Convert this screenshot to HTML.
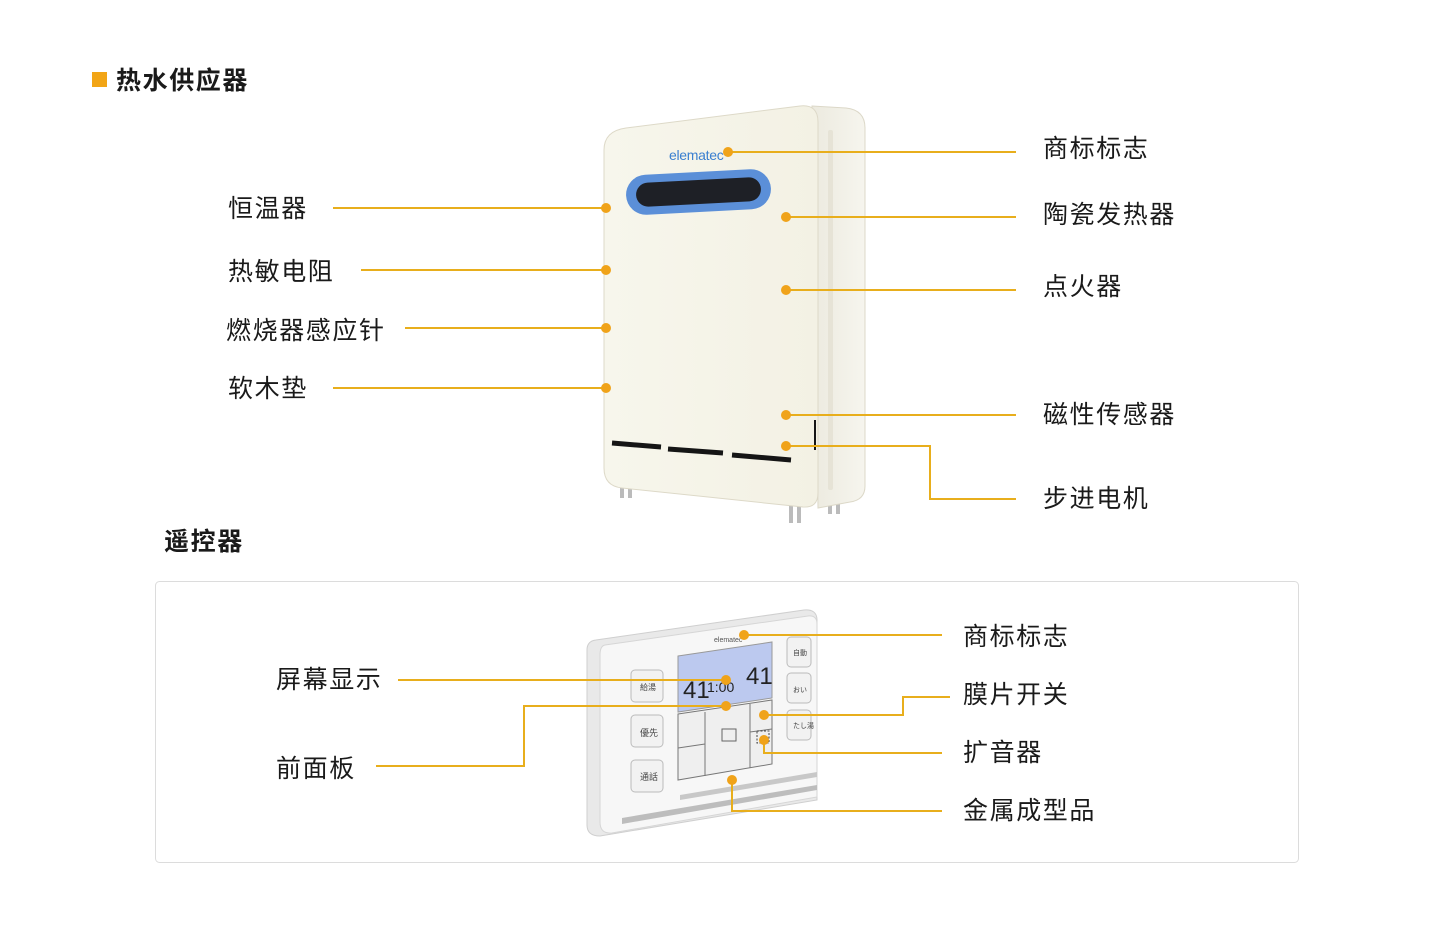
<!DOCTYPE html>
<html><head><meta charset="utf-8">
<style>
html,body{margin:0;padding:0;background:#fff;}
svg{display:block;}
text{font-family:"Liberation Sans","Noto Sans CJK SC",sans-serif;fill:#1a1a1a;}
.l{font-size:25px;letter-spacing:1.6px;}
.h{font-size:25px;font-weight:bold;letter-spacing:1.6px;}
.ln{stroke:#E8AE1C;stroke-width:2;fill:none;}
.d{fill:#F0A31A;}
</style></head><body>
<svg width="1456" height="936" viewBox="0 0 1456 936">
<rect x="92" y="72" width="15" height="15" fill="#F2A516"/>
<text class="h" x="116" y="89">热水供应器</text>
<text class="h" x="164" y="550">遥控器</text>

<defs>
<linearGradient id="sg" x1="0" x2="1"><stop offset="0" stop-color="#eceadf"/><stop offset="1" stop-color="#f6f5ee"/></linearGradient>
<linearGradient id="fg" x1="0" x2="1"><stop offset="0" stop-color="#f7f6ec"/><stop offset="1" stop-color="#f3f1e4"/></linearGradient>
</defs>
<rect x="620" y="484" width="4" height="14" fill="#bbb"/><rect x="628" y="484" width="4" height="14" fill="#bbb"/>
<rect x="789" y="505" width="4" height="18" fill="#bbb"/><rect x="797" y="505" width="4" height="18" fill="#bbb"/>
<rect x="828" y="500" width="4" height="14" fill="#bbb"/><rect x="836" y="500" width="4" height="14" fill="#bbb"/>
<path d="M812 106 L846 108 Q865 110 865 128 L865 486 Q865 500 850 502 L818 508 Z" fill="url(#sg)" stroke="#dcd8c8"/>
<path d="M626 128 L800 106 Q818 104 818 122 L818 493 Q818 508 803 507 L622 488 Q604 486 604 468 L604 150 Q604 131 626 128 Z" fill="url(#fg)" stroke="#ddd9c8"/>
<rect x="828" y="130" width="5" height="360" rx="2" fill="#e6e3d6"/>
<rect x="626" y="172" width="145" height="40" rx="20" fill="#5b8fd8" transform="rotate(-3 698 192)"/>
<rect x="636" y="180" width="125" height="24" rx="12" fill="#1e2026" transform="rotate(-3 698 192)"/>
<text x="669" y="160" style="font-size:14px;fill:#3a7fd0;letter-spacing:-0.3px">elematec</text>
<path d="M612 443 L661 447" stroke="#151515" stroke-width="5"/>
<path d="M668 449 L723 453" stroke="#151515" stroke-width="5"/>
<path d="M732 455 L791 460" stroke="#151515" stroke-width="5"/>
<path d="M815 420 L815 450" stroke="#151515" stroke-width="2"/>

<path class="ln" d="M728 152 H1016"/>
<path class="ln" d="M333 208 H606"/>
<path class="ln" d="M786 217 H1016"/>
<path class="ln" d="M361 270 H606"/>
<path class="ln" d="M786 290 H1016"/>
<path class="ln" d="M405 328 H606"/>
<path class="ln" d="M333 388 H606"/>
<path class="ln" d="M786 415 H1016"/>
<path class="ln" d="M786 446 H930 V499 H1016"/>
<circle class="d" cx="728" cy="152" r="5"/>
<circle class="d" cx="606" cy="208" r="5"/>
<circle class="d" cx="786" cy="217" r="5"/>
<circle class="d" cx="606" cy="270" r="5"/>
<circle class="d" cx="786" cy="290" r="5"/>
<circle class="d" cx="606" cy="328" r="5"/>
<circle class="d" cx="606" cy="388" r="5"/>
<circle class="d" cx="786" cy="415" r="5"/>
<circle class="d" cx="786" cy="446" r="5"/>
<text class="l" x="228" y="217">恒温器</text>
<text class="l" x="228" y="280">热敏电阻</text>
<text class="l" x="226" y="339">燃烧器感应针</text>
<text class="l" x="228" y="397">软木垫</text>
<text class="l" x="1043" y="157">商标标志</text>
<text class="l" x="1043" y="223">陶瓷发热器</text>
<text class="l" x="1043" y="295">点火器</text>
<text class="l" x="1043" y="423">磁性传感器</text>
<text class="l" x="1043" y="507">步进电机</text>

<rect x="155.5" y="581.5" width="1143" height="281" rx="4" fill="#fff" stroke="#dcdcdc"/>
<path d="M596 640 L804 610 Q817 609 817 620 L817 800 L600 836 Q587 836 587 825 L587 650 Q587 641 596 640 Z" fill="#e9e9e9" stroke="#cfcfcf"/>
<path d="M605 645 L808 616 Q817 615 817 624 L817 797 L612 833 Q600 834 600 822 L600 655 Q600 646 605 645 Z" fill="#f7f7f7" stroke="#d6d6d6"/>
<path d="M622 818 L817 785 L817 790 L622 824 Z" fill="#bdbdbd"/>
<path d="M678 656 L772 642 L772 698 L678 712 Z" fill="#bcc9ef" stroke="#999"/>
<text x="683" y="698" style="font-size:24px;fill:#222">41</text>
<text x="707" y="692" style="font-size:14px;fill:#222">1:00</text>
<text x="746" y="684" style="font-size:24px;fill:#222">41</text>
<path d="M678 714 L772 700 L772 764 L678 780 Z" fill="#efefef" stroke="#777"/>
<path d="M705 712 L705 776 M750 704 L750 768 M678 748 L705 744 M750 732 L772 729" stroke="#777" fill="none"/>
<rect x="722" y="729" width="14" height="12" fill="none" stroke="#666"/>
<g fill="#f2f2f2" stroke="#bbb">
<rect x="631" y="670" width="32" height="32" rx="4"/>
<rect x="631" y="715" width="32" height="32" rx="4"/>
<rect x="631" y="760" width="32" height="32" rx="4"/>
<rect x="787" y="637" width="24" height="30" rx="4"/>
<rect x="787" y="673" width="24" height="30" rx="4"/>
<rect x="787" y="710" width="24" height="30" rx="4"/>
</g>
<text x="640" y="690" style="font-size:8px;fill:#444">給湯</text>
<text x="640" y="736" style="font-size:9px;fill:#444">優先</text>
<text x="640" y="780" style="font-size:9px;fill:#444">通話</text>
<text x="793" y="655" style="font-size:7px;fill:#444">自動</text>
<text x="793" y="692" style="font-size:7px;fill:#444">おい</text>
<text x="793" y="728" style="font-size:7px;fill:#444">たし湯</text>
<text x="714" y="642" style="font-size:7px;fill:#555">elematec</text>
<rect x="757" y="731" width="12" height="12" fill="none" stroke="#444" stroke-dasharray="2 1.5"/>
<path d="M680 795 L817 772 L817 777 L680 800 Z" fill="#c8c8c8"/>

<path class="ln" d="M744 635 H942"/>
<path class="ln" d="M398 680 H726"/>
<path class="ln" d="M376 766 H524 V706 H726"/>
<path class="ln" d="M764 715 H903 V697 H950"/>
<path class="ln" d="M764 740 V753 H942"/>
<path class="ln" d="M732 780 V811 H942"/>
<circle class="d" cx="744" cy="635" r="5"/>
<circle class="d" cx="726" cy="680" r="5"/>
<circle class="d" cx="726" cy="706" r="5"/>
<circle class="d" cx="764" cy="715" r="5"/>
<circle class="d" cx="764" cy="740" r="5"/>
<circle class="d" cx="732" cy="780" r="5"/>
<text class="l" x="276" y="688">屏幕显示</text>
<text class="l" x="276" y="777">前面板</text>
<text class="l" x="963" y="645">商标标志</text>
<text class="l" x="963" y="703">膜片开关</text>
<text class="l" x="963" y="761">扩音器</text>
<text class="l" x="963" y="819">金属成型品</text>
</svg>
</body></html>
